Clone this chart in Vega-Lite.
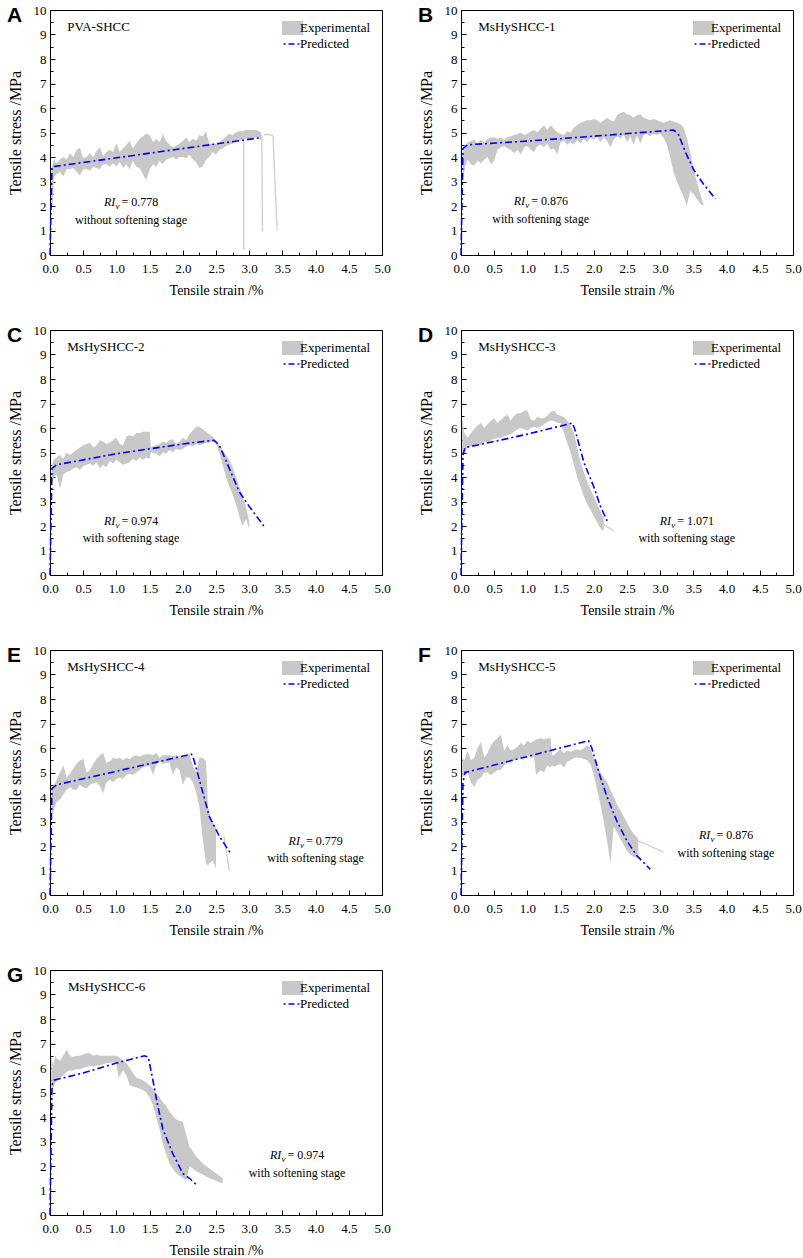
{
"$schema": "https://vega.github.io/schema/vega-lite/v6.json",
"background": "white",
"padding": {"left": 6, "top": 3, "right": 2, "bottom": 4},
"columns": 2,
"spacing": {"row": 75, "column": 79},
"bounds": "flush",
"resolve": {"scale": {"color": "independent"}, "legend": {"color": "independent"}},
"datasets": {"rows": [
{"p":"A","k":"b","x":0.02,"y":2.0,"y2":3.5},{"p":"A","k":"b","x":0.04,"y":2.0,"y2":3.7},{"p":"A","k":"b","x":0.06,"y":3.2,"y2":3.9},{"p":"A","k":"b","x":0.1,"y":3.3,"y2":3.75},{"p":"A","k":"b","x":0.15,"y":3.4,"y2":3.9},{"p":"A","k":"b","x":0.2,"y":3.2,"y2":4.0},{"p":"A","k":"b","x":0.25,"y":3.5,"y2":3.9},{"p":"A","k":"b","x":0.3,"y":3.5,"y2":4.15},{"p":"A","k":"b","x":0.35,"y":3.55,"y2":4.0},{"p":"A","k":"b","x":0.4,"y":3.4,"y2":4.3},{"p":"A","k":"b","x":0.45,"y":3.25,"y2":4.38},{"p":"A","k":"b","x":0.5,"y":3.5,"y2":3.95},{"p":"A","k":"b","x":0.55,"y":3.5,"y2":4.0},{"p":"A","k":"b","x":0.6,"y":3.45,"y2":4.15},{"p":"A","k":"b","x":0.65,"y":3.6,"y2":4.0},{"p":"A","k":"b","x":0.7,"y":3.55,"y2":4.25},{"p":"A","k":"b","x":0.75,"y":3.5,"y2":4.4},{"p":"A","k":"b","x":0.8,"y":3.7,"y2":4.05},{"p":"A","k":"b","x":0.85,"y":3.7,"y2":4.2},{"p":"A","k":"b","x":0.9,"y":3.6,"y2":4.3},{"p":"A","k":"b","x":0.95,"y":3.75,"y2":4.2},{"p":"A","k":"b","x":1.0,"y":3.6,"y2":4.55},{"p":"A","k":"b","x":1.05,"y":3.8,"y2":4.2},{"p":"A","k":"b","x":1.1,"y":3.55,"y2":4.35},{"p":"A","k":"b","x":1.15,"y":3.7,"y2":4.5},{"p":"A","k":"b","x":1.2,"y":3.5,"y2":4.65},{"p":"A","k":"b","x":1.25,"y":3.85,"y2":4.35},{"p":"A","k":"b","x":1.3,"y":3.6,"y2":4.55},{"p":"A","k":"b","x":1.35,"y":3.55,"y2":4.75},{"p":"A","k":"b","x":1.4,"y":3.3,"y2":4.85},{"p":"A","k":"b","x":1.45,"y":3.05,"y2":4.95},{"p":"A","k":"b","x":1.5,"y":3.5,"y2":4.9},{"p":"A","k":"b","x":1.55,"y":3.7,"y2":4.6},{"p":"A","k":"b","x":1.6,"y":3.6,"y2":4.75},{"p":"A","k":"b","x":1.65,"y":3.85,"y2":4.6},{"p":"A","k":"b","x":1.7,"y":3.7,"y2":4.95},{"p":"A","k":"b","x":1.75,"y":3.9,"y2":4.65},{"p":"A","k":"b","x":1.8,"y":3.95,"y2":4.5},{"p":"A","k":"b","x":1.85,"y":4.0,"y2":4.4},{"p":"A","k":"b","x":1.9,"y":3.9,"y2":4.45},{"p":"A","k":"b","x":1.95,"y":4.0,"y2":4.55},{"p":"A","k":"b","x":2.0,"y":4.0,"y2":4.65},{"p":"A","k":"b","x":2.05,"y":3.95,"y2":4.8},{"p":"A","k":"b","x":2.1,"y":4.1,"y2":4.6},{"p":"A","k":"b","x":2.15,"y":3.9,"y2":4.75},{"p":"A","k":"b","x":2.2,"y":3.8,"y2":4.65},{"p":"A","k":"b","x":2.25,"y":3.55,"y2":4.9},{"p":"A","k":"b","x":2.3,"y":3.6,"y2":4.85},{"p":"A","k":"b","x":2.35,"y":3.9,"y2":5.05},{"p":"A","k":"b","x":2.4,"y":4.0,"y2":4.55},{"p":"A","k":"b","x":2.45,"y":4.2,"y2":4.5},{"p":"A","k":"b","x":2.5,"y":4.1,"y2":4.55},{"p":"A","k":"b","x":2.55,"y":4.3,"y2":4.6},{"p":"A","k":"b","x":2.6,"y":4.35,"y2":4.7},{"p":"A","k":"b","x":2.65,"y":4.45,"y2":4.85},{"p":"A","k":"b","x":2.7,"y":4.5,"y2":4.95},{"p":"A","k":"b","x":2.75,"y":4.55,"y2":4.9},{"p":"A","k":"b","x":2.8,"y":4.6,"y2":5.0},{"p":"A","k":"b","x":2.85,"y":4.65,"y2":5.05},{"p":"A","k":"b","x":2.9,"y":4.7,"y2":5.05},{"p":"A","k":"b","x":2.95,"y":4.75,"y2":5.1},{"p":"A","k":"b","x":3.0,"y":4.75,"y2":5.1},{"p":"A","k":"b","x":3.05,"y":4.75,"y2":5.1},{"p":"A","k":"b","x":3.1,"y":4.8,"y2":5.1},{"p":"A","k":"b","x":3.15,"y":4.75,"y2":5.05},{"p":"A","k":"b","x":3.18,"y":4.7,"y2":5.0},
{"p":"A","k":"t","s":"1","x":2.92,"y":4.7},{"p":"A","k":"t","s":"1","x":2.92,"y":0.2},{"p":"A","k":"t","s":"2","x":3.19,"y":4.9},{"p":"A","k":"t","s":"2","x":3.2,"y":0.95},{"p":"A","k":"t","s":"3","x":3.22,"y":4.9},{"p":"A","k":"t","s":"3","x":3.3,"y":4.92},{"p":"A","k":"t","s":"3","x":3.36,"y":4.85},{"p":"A","k":"t","s":"3","x":3.38,"y":3.5},{"p":"A","k":"t","s":"3","x":3.42,"y":1.0},
{"p":"A","k":"l","x":0,"y":0},{"p":"A","k":"l","x":0.03,"y":3.6},{"p":"A","k":"l","x":3.15,"y":4.78},
{"p":"A","k":"n","x":1.22,"y":2.16,"tag":"A","name":"PVA-SHCC","ri":"= 0.778","stage":"without softening stage"},

{"p":"B","k":"b","x":0.03,"y":3.0,"y2":4.2},{"p":"B","k":"b","x":0.06,"y":3.6,"y2":4.4},{"p":"B","k":"b","x":0.1,"y":3.9,"y2":4.6},{"p":"B","k":"b","x":0.15,"y":3.7,"y2":4.65},{"p":"B","k":"b","x":0.2,"y":3.65,"y2":4.7},{"p":"B","k":"b","x":0.25,"y":3.85,"y2":4.55},{"p":"B","k":"b","x":0.3,"y":3.75,"y2":4.7},{"p":"B","k":"b","x":0.35,"y":3.9,"y2":4.6},{"p":"B","k":"b","x":0.4,"y":4.0,"y2":4.75},{"p":"B","k":"b","x":0.45,"y":3.7,"y2":4.8},{"p":"B","k":"b","x":0.5,"y":3.85,"y2":4.8},{"p":"B","k":"b","x":0.55,"y":4.3,"y2":4.75},{"p":"B","k":"b","x":0.6,"y":4.4,"y2":4.8},{"p":"B","k":"b","x":0.65,"y":4.45,"y2":4.7},{"p":"B","k":"b","x":0.7,"y":4.35,"y2":4.8},{"p":"B","k":"b","x":0.75,"y":4.3,"y2":4.85},{"p":"B","k":"b","x":0.8,"y":4.15,"y2":4.9},{"p":"B","k":"b","x":0.85,"y":4.3,"y2":4.95},{"p":"B","k":"b","x":0.9,"y":4.1,"y2":5.0},{"p":"B","k":"b","x":0.95,"y":4.4,"y2":4.9},{"p":"B","k":"b","x":1.0,"y":4.45,"y2":4.95},{"p":"B","k":"b","x":1.05,"y":4.3,"y2":5.05},{"p":"B","k":"b","x":1.1,"y":4.2,"y2":5.1},{"p":"B","k":"b","x":1.15,"y":4.45,"y2":5.0},{"p":"B","k":"b","x":1.2,"y":4.5,"y2":5.15},{"p":"B","k":"b","x":1.25,"y":4.4,"y2":5.3},{"p":"B","k":"b","x":1.3,"y":4.55,"y2":5.1},{"p":"B","k":"b","x":1.35,"y":4.3,"y2":5.3},{"p":"B","k":"b","x":1.4,"y":4.35,"y2":5.15},{"p":"B","k":"b","x":1.45,"y":4.1,"y2":5.0},{"p":"B","k":"b","x":1.5,"y":4.6,"y2":4.95},{"p":"B","k":"b","x":1.55,"y":4.65,"y2":4.9},{"p":"B","k":"b","x":1.6,"y":4.5,"y2":5.05},{"p":"B","k":"b","x":1.65,"y":4.6,"y2":5.0},{"p":"B","k":"b","x":1.7,"y":4.5,"y2":5.2},{"p":"B","k":"b","x":1.75,"y":4.7,"y2":5.3},{"p":"B","k":"b","x":1.8,"y":4.55,"y2":5.4},{"p":"B","k":"b","x":1.85,"y":4.75,"y2":5.45},{"p":"B","k":"b","x":1.9,"y":4.6,"y2":5.5},{"p":"B","k":"b","x":1.95,"y":4.8,"y2":5.5},{"p":"B","k":"b","x":2.0,"y":4.7,"y2":5.55},{"p":"B","k":"b","x":2.05,"y":4.85,"y2":5.5},{"p":"B","k":"b","x":2.1,"y":4.6,"y2":5.4},{"p":"B","k":"b","x":2.15,"y":4.8,"y2":5.5},{"p":"B","k":"b","x":2.2,"y":4.65,"y2":5.6},{"p":"B","k":"b","x":2.25,"y":4.4,"y2":5.5},{"p":"B","k":"b","x":2.3,"y":4.7,"y2":5.45},{"p":"B","k":"b","x":2.35,"y":4.85,"y2":5.7},{"p":"B","k":"b","x":2.4,"y":4.75,"y2":5.8},{"p":"B","k":"b","x":2.45,"y":4.9,"y2":5.85},{"p":"B","k":"b","x":2.5,"y":4.6,"y2":5.75},{"p":"B","k":"b","x":2.55,"y":4.85,"y2":5.7},{"p":"B","k":"b","x":2.6,"y":4.5,"y2":5.6},{"p":"B","k":"b","x":2.65,"y":4.9,"y2":5.7},{"p":"B","k":"b","x":2.7,"y":4.55,"y2":5.75},{"p":"B","k":"b","x":2.75,"y":4.9,"y2":5.6},{"p":"B","k":"b","x":2.8,"y":4.95,"y2":5.55},{"p":"B","k":"b","x":2.85,"y":4.85,"y2":5.5},{"p":"B","k":"b","x":2.9,"y":4.95,"y2":5.55},{"p":"B","k":"b","x":2.95,"y":4.9,"y2":5.5},{"p":"B","k":"b","x":3.0,"y":4.95,"y2":5.45},{"p":"B","k":"b","x":3.05,"y":4.8,"y2":5.4},{"p":"B","k":"b","x":3.1,"y":4.5,"y2":5.45},{"p":"B","k":"b","x":3.15,"y":4.0,"y2":5.5},{"p":"B","k":"b","x":3.2,"y":3.4,"y2":5.45},{"p":"B","k":"b","x":3.25,"y":3.0,"y2":5.4},{"p":"B","k":"b","x":3.3,"y":2.7,"y2":5.35},{"p":"B","k":"b","x":3.35,"y":2.4,"y2":5.2},{"p":"B","k":"b","x":3.4,"y":2.0,"y2":4.8},{"p":"B","k":"b","x":3.45,"y":2.6,"y2":4.2},{"p":"B","k":"b","x":3.5,"y":2.5,"y2":3.6},{"p":"B","k":"b","x":3.55,"y":2.3,"y2":3.0},{"p":"B","k":"b","x":3.6,"y":2.1,"y2":2.5},{"p":"B","k":"b","x":3.65,"y":2.0,"y2":2.1},
{"p":"B","k":"l","x":0,"y":0},{"p":"B","k":"l","x":0.03,"y":4.35},{"p":"B","k":"l","x":0.1,"y":4.5},{"p":"B","k":"l","x":1.0,"y":4.65},{"p":"B","k":"l","x":2.0,"y":4.85},{"p":"B","k":"l","x":3.2,"y":5.1},{"p":"B","k":"l","x":3.27,"y":4.95},{"p":"B","k":"l","x":3.38,"y":4.2},{"p":"B","k":"l","x":3.5,"y":3.5},{"p":"B","k":"l","x":3.65,"y":2.9},{"p":"B","k":"l","x":3.83,"y":2.3},
{"p":"B","k":"n","x":1.2,"y":2.19,"tag":"B","name":"MsHySHCC-1","ri":"= 0.876","stage":"with softening stage"},

{"p":"C","k":"b","x":0.03,"y":3.8,"y2":4.5},{"p":"C","k":"b","x":0.06,"y":4.0,"y2":4.7},{"p":"C","k":"b","x":0.1,"y":4.1,"y2":4.8},{"p":"C","k":"b","x":0.15,"y":3.5,"y2":4.9},{"p":"C","k":"b","x":0.2,"y":4.1,"y2":4.75},{"p":"C","k":"b","x":0.25,"y":4.2,"y2":5.0},{"p":"C","k":"b","x":0.3,"y":4.25,"y2":4.9},{"p":"C","k":"b","x":0.35,"y":4.35,"y2":5.0},{"p":"C","k":"b","x":0.4,"y":4.4,"y2":5.1},{"p":"C","k":"b","x":0.45,"y":4.3,"y2":5.2},{"p":"C","k":"b","x":0.5,"y":4.45,"y2":5.3},{"p":"C","k":"b","x":0.55,"y":4.5,"y2":5.35},{"p":"C","k":"b","x":0.6,"y":4.55,"y2":5.4},{"p":"C","k":"b","x":0.65,"y":4.45,"y2":5.2},{"p":"C","k":"b","x":0.7,"y":4.6,"y2":5.3},{"p":"C","k":"b","x":0.75,"y":4.35,"y2":5.5},{"p":"C","k":"b","x":0.8,"y":4.5,"y2":5.45},{"p":"C","k":"b","x":0.85,"y":4.4,"y2":5.35},{"p":"C","k":"b","x":0.9,"y":4.65,"y2":5.4},{"p":"C","k":"b","x":0.95,"y":4.55,"y2":5.5},{"p":"C","k":"b","x":1.0,"y":4.7,"y2":5.6},{"p":"C","k":"b","x":1.05,"y":4.6,"y2":5.35},{"p":"C","k":"b","x":1.1,"y":4.5,"y2":5.3},{"p":"C","k":"b","x":1.15,"y":4.55,"y2":5.65},{"p":"C","k":"b","x":1.2,"y":4.6,"y2":5.7},{"p":"C","k":"b","x":1.25,"y":4.75,"y2":5.65},{"p":"C","k":"b","x":1.3,"y":4.65,"y2":5.8},{"p":"C","k":"b","x":1.35,"y":4.8,"y2":5.8},{"p":"C","k":"b","x":1.4,"y":4.7,"y2":5.85},{"p":"C","k":"b","x":1.45,"y":4.8,"y2":5.85},{"p":"C","k":"b","x":1.5,"y":4.75,"y2":5.85},{"p":"C","k":"b","x":1.52,"y":5.0,"y2":5.2},{"p":"C","k":"b","x":1.6,"y":4.95,"y2":5.3},{"p":"C","k":"b","x":1.65,"y":4.85,"y2":5.35},{"p":"C","k":"b","x":1.7,"y":5.0,"y2":5.45},{"p":"C","k":"b","x":1.75,"y":4.95,"y2":5.4},{"p":"C","k":"b","x":1.8,"y":5.1,"y2":5.5},{"p":"C","k":"b","x":1.85,"y":5.0,"y2":5.55},{"p":"C","k":"b","x":1.9,"y":5.15,"y2":5.35},{"p":"C","k":"b","x":1.95,"y":5.1,"y2":5.45},{"p":"C","k":"b","x":2.0,"y":5.15,"y2":5.6},{"p":"C","k":"b","x":2.05,"y":5.25,"y2":5.5},{"p":"C","k":"b","x":2.1,"y":5.3,"y2":5.75},{"p":"C","k":"b","x":2.15,"y":5.25,"y2":5.9},{"p":"C","k":"b","x":2.2,"y":5.35,"y2":6.05},{"p":"C","k":"b","x":2.25,"y":5.3,"y2":6.05},{"p":"C","k":"b","x":2.3,"y":5.35,"y2":5.95},{"p":"C","k":"b","x":2.35,"y":5.4,"y2":5.85},{"p":"C","k":"b","x":2.4,"y":5.4,"y2":5.75},{"p":"C","k":"b","x":2.45,"y":5.45,"y2":5.65},{"p":"C","k":"b","x":2.5,"y":5.35,"y2":5.5},{"p":"C","k":"b","x":2.55,"y":5.0,"y2":5.3},{"p":"C","k":"b","x":2.6,"y":4.5,"y2":5.1},{"p":"C","k":"b","x":2.65,"y":4.0,"y2":4.9},{"p":"C","k":"b","x":2.7,"y":3.6,"y2":4.7},{"p":"C","k":"b","x":2.75,"y":3.3,"y2":4.4},{"p":"C","k":"b","x":2.8,"y":2.9,"y2":4.0},{"p":"C","k":"b","x":2.85,"y":2.4,"y2":3.6},{"p":"C","k":"b","x":2.9,"y":2.0,"y2":3.2},{"p":"C","k":"b","x":2.95,"y":2.3,"y2":2.8},{"p":"C","k":"b","x":3.0,"y":1.9,"y2":2.2},
{"p":"C","k":"l","x":0,"y":0},{"p":"C","k":"l","x":0.03,"y":4.35},{"p":"C","k":"l","x":0.1,"y":4.5},{"p":"C","k":"l","x":1.0,"y":4.95},{"p":"C","k":"l","x":2.0,"y":5.35},{"p":"C","k":"l","x":2.47,"y":5.5},{"p":"C","k":"l","x":2.55,"y":5.3},{"p":"C","k":"l","x":2.85,"y":3.4},{"p":"C","k":"l","x":3.0,"y":2.8},{"p":"C","k":"l","x":3.22,"y":2.0},
{"p":"C","k":"n","x":1.22,"y":2.21,"tag":"C","name":"MsHySHCC-2","ri":"= 0.974","stage":"with softening stage"},

{"p":"D","k":"b","x":0.02,"y":4.9,"y2":6.5},{"p":"D","k":"b","x":0.05,"y":5.0,"y2":5.8},{"p":"D","k":"b","x":0.1,"y":5.2,"y2":5.6},{"p":"D","k":"b","x":0.15,"y":5.25,"y2":5.8},{"p":"D","k":"b","x":0.2,"y":5.3,"y2":5.95},{"p":"D","k":"b","x":0.25,"y":5.35,"y2":6.1},{"p":"D","k":"b","x":0.3,"y":5.3,"y2":6.2},{"p":"D","k":"b","x":0.35,"y":5.45,"y2":6.0},{"p":"D","k":"b","x":0.4,"y":5.4,"y2":6.15},{"p":"D","k":"b","x":0.45,"y":5.5,"y2":6.3},{"p":"D","k":"b","x":0.5,"y":5.55,"y2":6.4},{"p":"D","k":"b","x":0.55,"y":5.6,"y2":6.2},{"p":"D","k":"b","x":0.6,"y":5.6,"y2":6.35},{"p":"D","k":"b","x":0.65,"y":5.65,"y2":6.45},{"p":"D","k":"b","x":0.7,"y":5.7,"y2":6.55},{"p":"D","k":"b","x":0.75,"y":5.75,"y2":6.3},{"p":"D","k":"b","x":0.8,"y":5.85,"y2":6.5},{"p":"D","k":"b","x":0.85,"y":5.95,"y2":6.6},{"p":"D","k":"b","x":0.9,"y":6.0,"y2":6.6},{"p":"D","k":"b","x":0.95,"y":5.95,"y2":6.7},{"p":"D","k":"b","x":1.0,"y":5.9,"y2":6.7},{"p":"D","k":"b","x":1.05,"y":6.0,"y2":6.35},{"p":"D","k":"b","x":1.1,"y":6.05,"y2":6.3},{"p":"D","k":"b","x":1.15,"y":6.0,"y2":6.45},{"p":"D","k":"b","x":1.2,"y":6.05,"y2":6.4},{"p":"D","k":"b","x":1.25,"y":6.15,"y2":6.4},{"p":"D","k":"b","x":1.3,"y":6.25,"y2":6.5},{"p":"D","k":"b","x":1.35,"y":6.3,"y2":6.65},{"p":"D","k":"b","x":1.4,"y":6.3,"y2":6.7},{"p":"D","k":"b","x":1.45,"y":6.2,"y2":6.55},{"p":"D","k":"b","x":1.5,"y":6.2,"y2":6.5},{"p":"D","k":"b","x":1.55,"y":5.8,"y2":6.45},{"p":"D","k":"b","x":1.6,"y":5.4,"y2":6.3},{"p":"D","k":"b","x":1.65,"y":5.0,"y2":6.1},{"p":"D","k":"b","x":1.7,"y":4.5,"y2":5.8},{"p":"D","k":"b","x":1.75,"y":4.0,"y2":5.2},{"p":"D","k":"b","x":1.8,"y":3.6,"y2":4.6},{"p":"D","k":"b","x":1.85,"y":3.2,"y2":4.2},{"p":"D","k":"b","x":1.9,"y":2.9,"y2":3.8},{"p":"D","k":"b","x":1.95,"y":2.65,"y2":3.5},{"p":"D","k":"b","x":2.0,"y":2.4,"y2":3.2},{"p":"D","k":"b","x":2.05,"y":2.15,"y2":2.9},{"p":"D","k":"b","x":2.1,"y":1.9,"y2":2.6},{"p":"D","k":"b","x":2.15,"y":1.8,"y2":2.3},
{"p":"D","k":"t","s":"1","x":2.15,"y":2.05},{"p":"D","k":"t","s":"1","x":2.3,"y":1.8},
{"p":"D","k":"l","x":0,"y":0},{"p":"D","k":"l","x":0.03,"y":4.9},{"p":"D","k":"l","x":0.06,"y":5.2},{"p":"D","k":"l","x":0.5,"y":5.45},{"p":"D","k":"l","x":1.0,"y":5.75},{"p":"D","k":"l","x":1.68,"y":6.2},{"p":"D","k":"l","x":1.72,"y":5.9},{"p":"D","k":"l","x":1.85,"y":4.6},{"p":"D","k":"l","x":2.0,"y":3.6},{"p":"D","k":"l","x":2.1,"y":2.8},{"p":"D","k":"l","x":2.22,"y":2.1},
{"p":"D","k":"n","x":3.4,"y":2.21,"tag":"D","name":"MsHySHCC-3","ri":"= 1.071","stage":"with softening stage"},

{"p":"E","k":"b","x":0.02,"y":3.2,"y2":4.3},{"p":"E","k":"b","x":0.05,"y":3.4,"y2":4.4},{"p":"E","k":"b","x":0.1,"y":3.8,"y2":4.7},{"p":"E","k":"b","x":0.15,"y":3.9,"y2":5.0},{"p":"E","k":"b","x":0.2,"y":4.1,"y2":5.3},{"p":"E","k":"b","x":0.25,"y":4.3,"y2":4.8},{"p":"E","k":"b","x":0.3,"y":4.4,"y2":4.95},{"p":"E","k":"b","x":0.35,"y":4.3,"y2":5.15},{"p":"E","k":"b","x":0.4,"y":4.3,"y2":5.35},{"p":"E","k":"b","x":0.45,"y":4.5,"y2":5.5},{"p":"E","k":"b","x":0.5,"y":4.4,"y2":5.55},{"p":"E","k":"b","x":0.55,"y":4.35,"y2":5.0},{"p":"E","k":"b","x":0.6,"y":4.5,"y2":5.1},{"p":"E","k":"b","x":0.65,"y":4.55,"y2":5.35},{"p":"E","k":"b","x":0.7,"y":4.6,"y2":5.55},{"p":"E","k":"b","x":0.75,"y":4.45,"y2":5.7},{"p":"E","k":"b","x":0.8,"y":4.15,"y2":5.8},{"p":"E","k":"b","x":0.85,"y":4.6,"y2":5.4},{"p":"E","k":"b","x":0.9,"y":4.7,"y2":5.45},{"p":"E","k":"b","x":0.95,"y":4.6,"y2":5.6},{"p":"E","k":"b","x":1.0,"y":4.75,"y2":5.55},{"p":"E","k":"b","x":1.05,"y":4.8,"y2":5.6},{"p":"E","k":"b","x":1.1,"y":4.75,"y2":5.5},{"p":"E","k":"b","x":1.15,"y":4.9,"y2":5.6},{"p":"E","k":"b","x":1.2,"y":4.95,"y2":5.55},{"p":"E","k":"b","x":1.25,"y":4.9,"y2":5.65},{"p":"E","k":"b","x":1.3,"y":5.0,"y2":5.7},{"p":"E","k":"b","x":1.35,"y":5.1,"y2":5.65},{"p":"E","k":"b","x":1.4,"y":5.2,"y2":5.7},{"p":"E","k":"b","x":1.45,"y":5.25,"y2":5.75},{"p":"E","k":"b","x":1.5,"y":5.3,"y2":5.75},{"p":"E","k":"b","x":1.55,"y":4.9,"y2":5.7},{"p":"E","k":"b","x":1.6,"y":5.3,"y2":5.8},{"p":"E","k":"b","x":1.65,"y":5.45,"y2":5.6},{"p":"E","k":"b","x":1.7,"y":5.35,"y2":5.7},{"p":"E","k":"b","x":1.75,"y":5.4,"y2":5.7},{"p":"E","k":"b","x":1.8,"y":5.4,"y2":5.7},{"p":"E","k":"b","x":1.85,"y":4.9,"y2":5.65},{"p":"E","k":"b","x":1.9,"y":5.2,"y2":5.7},{"p":"E","k":"b","x":1.95,"y":5.1,"y2":5.65},{"p":"E","k":"b","x":2.0,"y":4.5,"y2":5.6},{"p":"E","k":"b","x":2.05,"y":4.8,"y2":5.7},{"p":"E","k":"b","x":2.1,"y":4.8,"y2":5.75},{"p":"E","k":"b","x":2.15,"y":4.6,"y2":5.3},{"p":"E","k":"b","x":2.2,"y":4.2,"y2":5.0},{"p":"E","k":"b","x":2.25,"y":3.6,"y2":5.6},{"p":"E","k":"b","x":2.3,"y":2.3,"y2":5.6},{"p":"E","k":"b","x":2.35,"y":1.3,"y2":5.45},{"p":"E","k":"b","x":2.38,"y":1.2,"y2":3.6},{"p":"E","k":"b","x":2.4,"y":1.3,"y2":3.3},{"p":"E","k":"b","x":2.45,"y":1.4,"y2":3.0},{"p":"E","k":"b","x":2.5,"y":1.1,"y2":2.7},
{"p":"E","k":"t","s":"1","x":2.62,"y":2.4},{"p":"E","k":"t","s":"1","x":2.7,"y":1.0},
{"p":"E","k":"l","x":0,"y":0},{"p":"E","k":"l","x":0.03,"y":4.35},{"p":"E","k":"l","x":0.1,"y":4.5},{"p":"E","k":"l","x":1.0,"y":5.05},{"p":"E","k":"l","x":2.13,"y":5.75},{"p":"E","k":"l","x":2.17,"y":5.5},{"p":"E","k":"l","x":2.3,"y":4.2},{"p":"E","k":"l","x":2.4,"y":3.2},{"p":"E","k":"l","x":2.55,"y":2.4},{"p":"E","k":"l","x":2.72,"y":1.7},
{"p":"E","k":"n","x":4.0,"y":2.21,"tag":"E","name":"MsHySHCC-4","ri":"= 0.779","stage":"with softening stage"},

{"p":"F","k":"b","x":0.02,"y":4.8,"y2":5.6},{"p":"F","k":"b","x":0.05,"y":4.9,"y2":5.5},{"p":"F","k":"b","x":0.1,"y":5.0,"y2":5.9},{"p":"F","k":"b","x":0.15,"y":4.6,"y2":5.5},{"p":"F","k":"b","x":0.2,"y":4.4,"y2":5.6},{"p":"F","k":"b","x":0.25,"y":4.7,"y2":6.0},{"p":"F","k":"b","x":0.3,"y":4.8,"y2":6.25},{"p":"F","k":"b","x":0.35,"y":5.0,"y2":5.6},{"p":"F","k":"b","x":0.4,"y":5.0,"y2":5.8},{"p":"F","k":"b","x":0.45,"y":4.9,"y2":6.1},{"p":"F","k":"b","x":0.5,"y":5.0,"y2":6.3},{"p":"F","k":"b","x":0.55,"y":5.1,"y2":6.4},{"p":"F","k":"b","x":0.6,"y":5.1,"y2":6.55},{"p":"F","k":"b","x":0.65,"y":5.3,"y2":5.9},{"p":"F","k":"b","x":0.7,"y":5.4,"y2":6.1},{"p":"F","k":"b","x":0.75,"y":5.45,"y2":5.9},{"p":"F","k":"b","x":0.8,"y":5.5,"y2":5.95},{"p":"F","k":"b","x":0.85,"y":5.55,"y2":6.05},{"p":"F","k":"b","x":0.9,"y":5.6,"y2":6.2},{"p":"F","k":"b","x":0.95,"y":5.65,"y2":6.1},{"p":"F","k":"b","x":1.0,"y":5.7,"y2":6.3},{"p":"F","k":"b","x":1.05,"y":5.6,"y2":6.2},{"p":"F","k":"b","x":1.1,"y":5.65,"y2":6.3},{"p":"F","k":"b","x":1.13,"y":4.9,"y2":6.35},{"p":"F","k":"b","x":1.2,"y":5.1,"y2":6.4},{"p":"F","k":"b","x":1.25,"y":5.0,"y2":6.35},{"p":"F","k":"b","x":1.3,"y":5.3,"y2":6.4},{"p":"F","k":"b","x":1.35,"y":5.2,"y2":6.4},{"p":"F","k":"b","x":1.37,"y":5.3,"y2":5.7},{"p":"F","k":"b","x":1.4,"y":5.25,"y2":5.7},{"p":"F","k":"b","x":1.45,"y":5.3,"y2":5.85},{"p":"F","k":"b","x":1.5,"y":5.35,"y2":5.95},{"p":"F","k":"b","x":1.55,"y":5.2,"y2":5.8},{"p":"F","k":"b","x":1.6,"y":5.45,"y2":5.9},{"p":"F","k":"b","x":1.65,"y":5.5,"y2":5.85},{"p":"F","k":"b","x":1.7,"y":5.6,"y2":5.9},{"p":"F","k":"b","x":1.75,"y":5.6,"y2":5.95},{"p":"F","k":"b","x":1.8,"y":5.6,"y2":5.9},{"p":"F","k":"b","x":1.85,"y":5.55,"y2":6.0},{"p":"F","k":"b","x":1.9,"y":5.5,"y2":6.1},{"p":"F","k":"b","x":1.95,"y":5.35,"y2":6.0},{"p":"F","k":"b","x":2.0,"y":4.9,"y2":5.6},{"p":"F","k":"b","x":2.05,"y":4.3,"y2":5.3},{"p":"F","k":"b","x":2.1,"y":3.7,"y2":5.0},{"p":"F","k":"b","x":2.15,"y":3.0,"y2":4.8},{"p":"F","k":"b","x":2.2,"y":2.2,"y2":4.6},{"p":"F","k":"b","x":2.25,"y":1.3,"y2":4.3},{"p":"F","k":"b","x":2.3,"y":2.8,"y2":4.0},{"p":"F","k":"b","x":2.35,"y":2.55,"y2":3.7},{"p":"F","k":"b","x":2.4,"y":2.3,"y2":3.45},{"p":"F","k":"b","x":2.45,"y":2.05,"y2":3.2},{"p":"F","k":"b","x":2.5,"y":1.8,"y2":2.95},{"p":"F","k":"b","x":2.55,"y":1.65,"y2":2.7},{"p":"F","k":"b","x":2.6,"y":1.55,"y2":2.5},{"p":"F","k":"b","x":2.67,"y":1.5,"y2":2.3},
{"p":"F","k":"t","s":"1","x":2.67,"y":2.2},{"p":"F","k":"t","s":"1","x":2.8,"y":2.05},{"p":"F","k":"t","s":"1","x":3.05,"y":1.75},
{"p":"F","k":"l","x":0,"y":0},{"p":"F","k":"l","x":0.03,"y":4.6},{"p":"F","k":"l","x":0.06,"y":5.0},{"p":"F","k":"l","x":1.0,"y":5.65},{"p":"F","k":"l","x":1.92,"y":6.3},{"p":"F","k":"l","x":1.97,"y":6.0},{"p":"F","k":"l","x":2.1,"y":4.8},{"p":"F","k":"l","x":2.2,"y":4.0},{"p":"F","k":"l","x":2.35,"y":3.0},{"p":"F","k":"l","x":2.5,"y":2.2},{"p":"F","k":"l","x":2.65,"y":1.6},{"p":"F","k":"l","x":2.85,"y":1.05},
{"p":"F","k":"n","x":3.99,"y":2.45,"tag":"F","name":"MsHySHCC-5","ri":"= 0.876","stage":"with softening stage"},

{"p":"G","k":"b","x":0.02,"y":4.5,"y2":6.5},{"p":"G","k":"b","x":0.05,"y":5.2,"y2":6.1},{"p":"G","k":"b","x":0.08,"y":5.4,"y2":6.5},{"p":"G","k":"b","x":0.1,"y":5.5,"y2":6.4},{"p":"G","k":"b","x":0.15,"y":5.6,"y2":6.3},{"p":"G","k":"b","x":0.2,"y":5.7,"y2":6.5},{"p":"G","k":"b","x":0.25,"y":5.85,"y2":6.75},{"p":"G","k":"b","x":0.3,"y":5.9,"y2":6.5},{"p":"G","k":"b","x":0.35,"y":5.9,"y2":6.45},{"p":"G","k":"b","x":0.4,"y":5.95,"y2":6.5},{"p":"G","k":"b","x":0.45,"y":5.95,"y2":6.5},{"p":"G","k":"b","x":0.5,"y":6.0,"y2":6.55},{"p":"G","k":"b","x":0.55,"y":6.05,"y2":6.6},{"p":"G","k":"b","x":0.6,"y":6.1,"y2":6.6},{"p":"G","k":"b","x":0.65,"y":6.05,"y2":6.5},{"p":"G","k":"b","x":0.7,"y":6.1,"y2":6.55},{"p":"G","k":"b","x":0.75,"y":6.1,"y2":6.5},{"p":"G","k":"b","x":0.8,"y":6.15,"y2":6.5},{"p":"G","k":"b","x":0.85,"y":6.2,"y2":6.5},{"p":"G","k":"b","x":0.9,"y":6.2,"y2":6.5},{"p":"G","k":"b","x":0.95,"y":6.25,"y2":6.5},{"p":"G","k":"b","x":1.0,"y":6.2,"y2":6.5},{"p":"G","k":"b","x":1.03,"y":5.6,"y2":6.45},{"p":"G","k":"b","x":1.1,"y":5.9,"y2":6.3},{"p":"G","k":"b","x":1.15,"y":5.7,"y2":6.2},{"p":"G","k":"b","x":1.2,"y":5.3,"y2":6.0},{"p":"G","k":"b","x":1.25,"y":5.25,"y2":5.8},{"p":"G","k":"b","x":1.3,"y":5.2,"y2":5.6},{"p":"G","k":"b","x":1.35,"y":5.15,"y2":5.55},{"p":"G","k":"b","x":1.4,"y":5.1,"y2":5.5},{"p":"G","k":"b","x":1.45,"y":5.0,"y2":5.4},{"p":"G","k":"b","x":1.5,"y":4.8,"y2":5.3},{"p":"G","k":"b","x":1.55,"y":4.5,"y2":5.15},{"p":"G","k":"b","x":1.6,"y":4.0,"y2":4.95},{"p":"G","k":"b","x":1.65,"y":3.5,"y2":4.8},{"p":"G","k":"b","x":1.7,"y":2.9,"y2":4.6},{"p":"G","k":"b","x":1.75,"y":2.5,"y2":4.45},{"p":"G","k":"b","x":1.8,"y":2.1,"y2":4.2},{"p":"G","k":"b","x":1.85,"y":1.9,"y2":4.05},{"p":"G","k":"b","x":1.9,"y":1.7,"y2":3.9},{"p":"G","k":"b","x":1.95,"y":1.6,"y2":3.85},{"p":"G","k":"b","x":2.0,"y":1.5,"y2":3.8},{"p":"G","k":"b","x":2.05,"y":1.4,"y2":3.3},{"p":"G","k":"b","x":2.1,"y":2.0,"y2":2.8},{"p":"G","k":"b","x":2.15,"y":1.9,"y2":2.6},{"p":"G","k":"b","x":2.2,"y":1.8,"y2":2.4},{"p":"G","k":"b","x":2.3,"y":1.65,"y2":2.1},{"p":"G","k":"b","x":2.4,"y":1.5,"y2":1.9},{"p":"G","k":"b","x":2.5,"y":1.4,"y2":1.7},{"p":"G","k":"b","x":2.6,"y":1.3,"y2":1.5},
{"p":"G","k":"l","x":0,"y":0},{"p":"G","k":"l","x":0.03,"y":5.3},{"p":"G","k":"l","x":0.06,"y":5.5},{"p":"G","k":"l","x":0.5,"y":5.8},{"p":"G","k":"l","x":1.0,"y":6.2},{"p":"G","k":"l","x":1.42,"y":6.5},{"p":"G","k":"l","x":1.48,"y":6.45},{"p":"G","k":"l","x":1.55,"y":5.5},{"p":"G","k":"l","x":1.62,"y":4.5},{"p":"G","k":"l","x":1.7,"y":3.5},{"p":"G","k":"l","x":1.85,"y":2.5},{"p":"G","k":"l","x":2.0,"y":1.7},{"p":"G","k":"l","x":2.1,"y":1.5},{"p":"G","k":"l","x":2.22,"y":1.2},
{"p":"G","k":"n","x":3.72,"y":2.43,"tag":"G","name":"MsHySHCC-6","ri":"= 0.974","stage":"with softening stage"}
]},
"concat": [
{"width": 332, "height": 245, "data": {"name": "rows"}, "transform": [{"filter": "datum.p === 'A'"}],
 "encoding": {
  "x": {"field": "x", "type": "quantitative", "scale": {"domain": [0, 5], "nice": false, "zero": false}, "axis": {"title": "Tensile strain /%", "values": [0,0.25,0.5,0.75,1,1.25,1.5,1.75,2,2.25,2.5,2.75,3,3.25,3.5,3.75,4,4.25,4.5,4.75,5], "labelExpr": "datum.value % 0.5 === 0 ? format(datum.value, '.1f') : ''", "tickSize": {"condition": {"test": "datum.value % 0.5 === 0", "value": -5}, "value": -3}, "labelPadding": 12, "titlePadding": 6, "titleFontSize": 14}},
  "y": {"field": "y", "type": "quantitative", "scale": {"domain": [0, 10], "nice": false}, "axis": {"title": "Tensile stress /MPa", "values": [0,0.5,1,1.5,2,2.5,3,3.5,4,4.5,5,5.5,6,6.5,7,7.5,8,8.5,9,9.5,10], "labelExpr": "datum.value % 1 === 0 ? format(datum.value, 'd') : ''", "tickSize": {"condition": {"test": "datum.value % 1 === 0", "value": -5}, "value": -3}, "labelPadding": 9, "titlePadding": 10, "titleFontSize": 16}}
 },
 "layer": [
  {"transform": [{"filter": "datum.k === 'b'"}], "mark": {"type": "area"}, "encoding": {"y2": {"field": "y2"}, "color": {"datum": "Experimental", "type": "nominal", "scale": {"domain": ["Experimental", "Predicted"], "range": ["#c8c8c8", "#0000ff"]}, "legend": {"title": null, "encode": {"symbols": {"update": {"size": {"value": 784}, "shape": {"signal": "datum.value === 'Experimental' ? 'M-1,-0.5H1V0.5H-1Z' : 'M-1,0H1'"}, "fill": {"signal": "datum.value === 'Experimental' ? '#c8c8c8' : 'transparent'"}, "stroke": {"signal": "datum.value === 'Experimental' ? '#9a9a9a' : '#0000ff'"}, "strokeWidth": {"signal": "datum.value === 'Experimental' ? 1 : 1.6"}, "strokeDash": {"signal": "datum.value === 'Experimental' ? [1,0] : [6,3,2,3]"}, "opacity": {"value": 1}}}}}}}},
  {"transform": [{"filter": "datum.k === 't'"}], "mark": {"type": "line", "color": "#cfcfcf", "strokeWidth": 1.3}, "encoding": {"detail": {"field": "s", "type": "nominal"}}},
  {"transform": [{"filter": "datum.k === 'l'"}], "mark": {"type": "line", "strokeWidth": 1.6, "strokeDash": [7, 3, 2, 3]}, "encoding": {"color": {"datum": "Predicted", "type": "nominal"}}},
  {"transform": [{"filter": "datum.k === 'n'"}], "mark": {"type": "text", "align": "left", "baseline": "alphabetic", "font": "Liberation Sans", "fontWeight": "bold", "fontSize": 21}, "encoding": {"x": {"datum": -0.648, "type": "quantitative"}, "y": {"datum": 9.51, "type": "quantitative"}, "text": {"field": "tag"}}},
  {"transform": [{"filter": "datum.k === 'n'"}], "mark": {"type": "text", "align": "left", "baseline": "middle", "fontSize": 13}, "encoding": {"x": {"datum": 0.26, "type": "quantitative"}, "y": {"datum": 9.32, "type": "quantitative"}, "text": {"field": "name"}}},
  {"transform": [{"filter": "datum.k === 'n'"}], "mark": {"type": "text", "text": "RI", "fontStyle": "italic", "align": "left", "baseline": "middle", "fontSize": 12, "dx": -27}},
  {"transform": [{"filter": "datum.k === 'n'"}], "mark": {"type": "text", "text": "v", "fontStyle": "italic", "align": "left", "baseline": "middle", "fontSize": 9, "dx": -15.5, "dy": 4}},
  {"transform": [{"filter": "datum.k === 'n'"}], "mark": {"type": "text", "align": "left", "baseline": "middle", "fontSize": 12, "dx": -9.5}, "encoding": {"text": {"field": "ri"}}},
  {"transform": [{"filter": "datum.k === 'n'"}], "mark": {"type": "text", "align": "center", "baseline": "middle", "fontSize": 12, "dy": 17.6}, "encoding": {"text": {"field": "stage"}}}
 ]},
{"width": 332, "height": 245, "data": {"name": "rows"}, "transform": [{"filter": "datum.p === 'B'"}],
 "encoding": {
  "x": {"field": "x", "type": "quantitative", "scale": {"domain": [0, 5], "nice": false, "zero": false}, "axis": {"title": "Tensile strain /%", "values": [0,0.25,0.5,0.75,1,1.25,1.5,1.75,2,2.25,2.5,2.75,3,3.25,3.5,3.75,4,4.25,4.5,4.75,5], "labelExpr": "datum.value % 0.5 === 0 ? format(datum.value, '.1f') : ''", "tickSize": {"condition": {"test": "datum.value % 0.5 === 0", "value": -5}, "value": -3}, "labelPadding": 12, "titlePadding": 6, "titleFontSize": 14}},
  "y": {"field": "y", "type": "quantitative", "scale": {"domain": [0, 10], "nice": false}, "axis": {"title": "Tensile stress /MPa", "values": [0,0.5,1,1.5,2,2.5,3,3.5,4,4.5,5,5.5,6,6.5,7,7.5,8,8.5,9,9.5,10], "labelExpr": "datum.value % 1 === 0 ? format(datum.value, 'd') : ''", "tickSize": {"condition": {"test": "datum.value % 1 === 0", "value": -5}, "value": -3}, "labelPadding": 9, "titlePadding": 10, "titleFontSize": 16}}
 },
 "layer": [
  {"transform": [{"filter": "datum.k === 'b'"}], "mark": {"type": "area"}, "encoding": {"y2": {"field": "y2"}, "color": {"datum": "Experimental", "type": "nominal", "scale": {"domain": ["Experimental", "Predicted"], "range": ["#c8c8c8", "#0000ff"]}, "legend": {"title": null, "encode": {"symbols": {"update": {"size": {"value": 784}, "shape": {"signal": "datum.value === 'Experimental' ? 'M-1,-0.5H1V0.5H-1Z' : 'M-1,0H1'"}, "fill": {"signal": "datum.value === 'Experimental' ? '#c8c8c8' : 'transparent'"}, "stroke": {"signal": "datum.value === 'Experimental' ? '#9a9a9a' : '#0000ff'"}, "strokeWidth": {"signal": "datum.value === 'Experimental' ? 1 : 1.6"}, "strokeDash": {"signal": "datum.value === 'Experimental' ? [1,0] : [6,3,2,3]"}, "opacity": {"value": 1}}}}}}}},
  {"transform": [{"filter": "datum.k === 't'"}], "mark": {"type": "line", "color": "#cfcfcf", "strokeWidth": 1.3}, "encoding": {"detail": {"field": "s", "type": "nominal"}}},
  {"transform": [{"filter": "datum.k === 'l'"}], "mark": {"type": "line", "strokeWidth": 1.6, "strokeDash": [7, 3, 2, 3]}, "encoding": {"color": {"datum": "Predicted", "type": "nominal"}}},
  {"transform": [{"filter": "datum.k === 'n'"}], "mark": {"type": "text", "align": "left", "baseline": "alphabetic", "font": "Liberation Sans", "fontWeight": "bold", "fontSize": 21}, "encoding": {"x": {"datum": -0.648, "type": "quantitative"}, "y": {"datum": 9.51, "type": "quantitative"}, "text": {"field": "tag"}}},
  {"transform": [{"filter": "datum.k === 'n'"}], "mark": {"type": "text", "align": "left", "baseline": "middle", "fontSize": 13}, "encoding": {"x": {"datum": 0.26, "type": "quantitative"}, "y": {"datum": 9.32, "type": "quantitative"}, "text": {"field": "name"}}},
  {"transform": [{"filter": "datum.k === 'n'"}], "mark": {"type": "text", "text": "RI", "fontStyle": "italic", "align": "left", "baseline": "middle", "fontSize": 12, "dx": -27}},
  {"transform": [{"filter": "datum.k === 'n'"}], "mark": {"type": "text", "text": "v", "fontStyle": "italic", "align": "left", "baseline": "middle", "fontSize": 9, "dx": -15.5, "dy": 4}},
  {"transform": [{"filter": "datum.k === 'n'"}], "mark": {"type": "text", "align": "left", "baseline": "middle", "fontSize": 12, "dx": -9.5}, "encoding": {"text": {"field": "ri"}}},
  {"transform": [{"filter": "datum.k === 'n'"}], "mark": {"type": "text", "align": "center", "baseline": "middle", "fontSize": 12, "dy": 17.6}, "encoding": {"text": {"field": "stage"}}}
 ]},
{"width": 332, "height": 245, "data": {"name": "rows"}, "transform": [{"filter": "datum.p === 'C'"}],
 "encoding": {
  "x": {"field": "x", "type": "quantitative", "scale": {"domain": [0, 5], "nice": false, "zero": false}, "axis": {"title": "Tensile strain /%", "values": [0,0.25,0.5,0.75,1,1.25,1.5,1.75,2,2.25,2.5,2.75,3,3.25,3.5,3.75,4,4.25,4.5,4.75,5], "labelExpr": "datum.value % 0.5 === 0 ? format(datum.value, '.1f') : ''", "tickSize": {"condition": {"test": "datum.value % 0.5 === 0", "value": -5}, "value": -3}, "labelPadding": 12, "titlePadding": 6, "titleFontSize": 14}},
  "y": {"field": "y", "type": "quantitative", "scale": {"domain": [0, 10], "nice": false}, "axis": {"title": "Tensile stress /MPa", "values": [0,0.5,1,1.5,2,2.5,3,3.5,4,4.5,5,5.5,6,6.5,7,7.5,8,8.5,9,9.5,10], "labelExpr": "datum.value % 1 === 0 ? format(datum.value, 'd') : ''", "tickSize": {"condition": {"test": "datum.value % 1 === 0", "value": -5}, "value": -3}, "labelPadding": 9, "titlePadding": 10, "titleFontSize": 16}}
 },
 "layer": [
  {"transform": [{"filter": "datum.k === 'b'"}], "mark": {"type": "area"}, "encoding": {"y2": {"field": "y2"}, "color": {"datum": "Experimental", "type": "nominal", "scale": {"domain": ["Experimental", "Predicted"], "range": ["#c8c8c8", "#0000ff"]}, "legend": {"title": null, "encode": {"symbols": {"update": {"size": {"value": 784}, "shape": {"signal": "datum.value === 'Experimental' ? 'M-1,-0.5H1V0.5H-1Z' : 'M-1,0H1'"}, "fill": {"signal": "datum.value === 'Experimental' ? '#c8c8c8' : 'transparent'"}, "stroke": {"signal": "datum.value === 'Experimental' ? '#9a9a9a' : '#0000ff'"}, "strokeWidth": {"signal": "datum.value === 'Experimental' ? 1 : 1.6"}, "strokeDash": {"signal": "datum.value === 'Experimental' ? [1,0] : [6,3,2,3]"}, "opacity": {"value": 1}}}}}}}},
  {"transform": [{"filter": "datum.k === 't'"}], "mark": {"type": "line", "color": "#cfcfcf", "strokeWidth": 1.3}, "encoding": {"detail": {"field": "s", "type": "nominal"}}},
  {"transform": [{"filter": "datum.k === 'l'"}], "mark": {"type": "line", "strokeWidth": 1.6, "strokeDash": [7, 3, 2, 3]}, "encoding": {"color": {"datum": "Predicted", "type": "nominal"}}},
  {"transform": [{"filter": "datum.k === 'n'"}], "mark": {"type": "text", "align": "left", "baseline": "alphabetic", "font": "Liberation Sans", "fontWeight": "bold", "fontSize": 21}, "encoding": {"x": {"datum": -0.648, "type": "quantitative"}, "y": {"datum": 9.51, "type": "quantitative"}, "text": {"field": "tag"}}},
  {"transform": [{"filter": "datum.k === 'n'"}], "mark": {"type": "text", "align": "left", "baseline": "middle", "fontSize": 13}, "encoding": {"x": {"datum": 0.26, "type": "quantitative"}, "y": {"datum": 9.32, "type": "quantitative"}, "text": {"field": "name"}}},
  {"transform": [{"filter": "datum.k === 'n'"}], "mark": {"type": "text", "text": "RI", "fontStyle": "italic", "align": "left", "baseline": "middle", "fontSize": 12, "dx": -27}},
  {"transform": [{"filter": "datum.k === 'n'"}], "mark": {"type": "text", "text": "v", "fontStyle": "italic", "align": "left", "baseline": "middle", "fontSize": 9, "dx": -15.5, "dy": 4}},
  {"transform": [{"filter": "datum.k === 'n'"}], "mark": {"type": "text", "align": "left", "baseline": "middle", "fontSize": 12, "dx": -9.5}, "encoding": {"text": {"field": "ri"}}},
  {"transform": [{"filter": "datum.k === 'n'"}], "mark": {"type": "text", "align": "center", "baseline": "middle", "fontSize": 12, "dy": 17.6}, "encoding": {"text": {"field": "stage"}}}
 ]},
{"width": 332, "height": 245, "data": {"name": "rows"}, "transform": [{"filter": "datum.p === 'D'"}],
 "encoding": {
  "x": {"field": "x", "type": "quantitative", "scale": {"domain": [0, 5], "nice": false, "zero": false}, "axis": {"title": "Tensile strain /%", "values": [0,0.25,0.5,0.75,1,1.25,1.5,1.75,2,2.25,2.5,2.75,3,3.25,3.5,3.75,4,4.25,4.5,4.75,5], "labelExpr": "datum.value % 0.5 === 0 ? format(datum.value, '.1f') : ''", "tickSize": {"condition": {"test": "datum.value % 0.5 === 0", "value": -5}, "value": -3}, "labelPadding": 12, "titlePadding": 6, "titleFontSize": 14}},
  "y": {"field": "y", "type": "quantitative", "scale": {"domain": [0, 10], "nice": false}, "axis": {"title": "Tensile stress /MPa", "values": [0,0.5,1,1.5,2,2.5,3,3.5,4,4.5,5,5.5,6,6.5,7,7.5,8,8.5,9,9.5,10], "labelExpr": "datum.value % 1 === 0 ? format(datum.value, 'd') : ''", "tickSize": {"condition": {"test": "datum.value % 1 === 0", "value": -5}, "value": -3}, "labelPadding": 9, "titlePadding": 10, "titleFontSize": 16}}
 },
 "layer": [
  {"transform": [{"filter": "datum.k === 'b'"}], "mark": {"type": "area"}, "encoding": {"y2": {"field": "y2"}, "color": {"datum": "Experimental", "type": "nominal", "scale": {"domain": ["Experimental", "Predicted"], "range": ["#c8c8c8", "#0000ff"]}, "legend": {"title": null, "encode": {"symbols": {"update": {"size": {"value": 784}, "shape": {"signal": "datum.value === 'Experimental' ? 'M-1,-0.5H1V0.5H-1Z' : 'M-1,0H1'"}, "fill": {"signal": "datum.value === 'Experimental' ? '#c8c8c8' : 'transparent'"}, "stroke": {"signal": "datum.value === 'Experimental' ? '#9a9a9a' : '#0000ff'"}, "strokeWidth": {"signal": "datum.value === 'Experimental' ? 1 : 1.6"}, "strokeDash": {"signal": "datum.value === 'Experimental' ? [1,0] : [6,3,2,3]"}, "opacity": {"value": 1}}}}}}}},
  {"transform": [{"filter": "datum.k === 't'"}], "mark": {"type": "line", "color": "#cfcfcf", "strokeWidth": 1.3}, "encoding": {"detail": {"field": "s", "type": "nominal"}}},
  {"transform": [{"filter": "datum.k === 'l'"}], "mark": {"type": "line", "strokeWidth": 1.6, "strokeDash": [7, 3, 2, 3]}, "encoding": {"color": {"datum": "Predicted", "type": "nominal"}}},
  {"transform": [{"filter": "datum.k === 'n'"}], "mark": {"type": "text", "align": "left", "baseline": "alphabetic", "font": "Liberation Sans", "fontWeight": "bold", "fontSize": 21}, "encoding": {"x": {"datum": -0.648, "type": "quantitative"}, "y": {"datum": 9.51, "type": "quantitative"}, "text": {"field": "tag"}}},
  {"transform": [{"filter": "datum.k === 'n'"}], "mark": {"type": "text", "align": "left", "baseline": "middle", "fontSize": 13}, "encoding": {"x": {"datum": 0.26, "type": "quantitative"}, "y": {"datum": 9.32, "type": "quantitative"}, "text": {"field": "name"}}},
  {"transform": [{"filter": "datum.k === 'n'"}], "mark": {"type": "text", "text": "RI", "fontStyle": "italic", "align": "left", "baseline": "middle", "fontSize": 12, "dx": -27}},
  {"transform": [{"filter": "datum.k === 'n'"}], "mark": {"type": "text", "text": "v", "fontStyle": "italic", "align": "left", "baseline": "middle", "fontSize": 9, "dx": -15.5, "dy": 4}},
  {"transform": [{"filter": "datum.k === 'n'"}], "mark": {"type": "text", "align": "left", "baseline": "middle", "fontSize": 12, "dx": -9.5}, "encoding": {"text": {"field": "ri"}}},
  {"transform": [{"filter": "datum.k === 'n'"}], "mark": {"type": "text", "align": "center", "baseline": "middle", "fontSize": 12, "dy": 17.6}, "encoding": {"text": {"field": "stage"}}}
 ]},
{"width": 332, "height": 245, "data": {"name": "rows"}, "transform": [{"filter": "datum.p === 'E'"}],
 "encoding": {
  "x": {"field": "x", "type": "quantitative", "scale": {"domain": [0, 5], "nice": false, "zero": false}, "axis": {"title": "Tensile strain /%", "values": [0,0.25,0.5,0.75,1,1.25,1.5,1.75,2,2.25,2.5,2.75,3,3.25,3.5,3.75,4,4.25,4.5,4.75,5], "labelExpr": "datum.value % 0.5 === 0 ? format(datum.value, '.1f') : ''", "tickSize": {"condition": {"test": "datum.value % 0.5 === 0", "value": -5}, "value": -3}, "labelPadding": 12, "titlePadding": 6, "titleFontSize": 14}},
  "y": {"field": "y", "type": "quantitative", "scale": {"domain": [0, 10], "nice": false}, "axis": {"title": "Tensile stress /MPa", "values": [0,0.5,1,1.5,2,2.5,3,3.5,4,4.5,5,5.5,6,6.5,7,7.5,8,8.5,9,9.5,10], "labelExpr": "datum.value % 1 === 0 ? format(datum.value, 'd') : ''", "tickSize": {"condition": {"test": "datum.value % 1 === 0", "value": -5}, "value": -3}, "labelPadding": 9, "titlePadding": 10, "titleFontSize": 16}}
 },
 "layer": [
  {"transform": [{"filter": "datum.k === 'b'"}], "mark": {"type": "area"}, "encoding": {"y2": {"field": "y2"}, "color": {"datum": "Experimental", "type": "nominal", "scale": {"domain": ["Experimental", "Predicted"], "range": ["#c8c8c8", "#0000ff"]}, "legend": {"title": null, "encode": {"symbols": {"update": {"size": {"value": 784}, "shape": {"signal": "datum.value === 'Experimental' ? 'M-1,-0.5H1V0.5H-1Z' : 'M-1,0H1'"}, "fill": {"signal": "datum.value === 'Experimental' ? '#c8c8c8' : 'transparent'"}, "stroke": {"signal": "datum.value === 'Experimental' ? '#9a9a9a' : '#0000ff'"}, "strokeWidth": {"signal": "datum.value === 'Experimental' ? 1 : 1.6"}, "strokeDash": {"signal": "datum.value === 'Experimental' ? [1,0] : [6,3,2,3]"}, "opacity": {"value": 1}}}}}}}},
  {"transform": [{"filter": "datum.k === 't'"}], "mark": {"type": "line", "color": "#cfcfcf", "strokeWidth": 1.3}, "encoding": {"detail": {"field": "s", "type": "nominal"}}},
  {"transform": [{"filter": "datum.k === 'l'"}], "mark": {"type": "line", "strokeWidth": 1.6, "strokeDash": [7, 3, 2, 3]}, "encoding": {"color": {"datum": "Predicted", "type": "nominal"}}},
  {"transform": [{"filter": "datum.k === 'n'"}], "mark": {"type": "text", "align": "left", "baseline": "alphabetic", "font": "Liberation Sans", "fontWeight": "bold", "fontSize": 21}, "encoding": {"x": {"datum": -0.648, "type": "quantitative"}, "y": {"datum": 9.51, "type": "quantitative"}, "text": {"field": "tag"}}},
  {"transform": [{"filter": "datum.k === 'n'"}], "mark": {"type": "text", "align": "left", "baseline": "middle", "fontSize": 13}, "encoding": {"x": {"datum": 0.26, "type": "quantitative"}, "y": {"datum": 9.32, "type": "quantitative"}, "text": {"field": "name"}}},
  {"transform": [{"filter": "datum.k === 'n'"}], "mark": {"type": "text", "text": "RI", "fontStyle": "italic", "align": "left", "baseline": "middle", "fontSize": 12, "dx": -27}},
  {"transform": [{"filter": "datum.k === 'n'"}], "mark": {"type": "text", "text": "v", "fontStyle": "italic", "align": "left", "baseline": "middle", "fontSize": 9, "dx": -15.5, "dy": 4}},
  {"transform": [{"filter": "datum.k === 'n'"}], "mark": {"type": "text", "align": "left", "baseline": "middle", "fontSize": 12, "dx": -9.5}, "encoding": {"text": {"field": "ri"}}},
  {"transform": [{"filter": "datum.k === 'n'"}], "mark": {"type": "text", "align": "center", "baseline": "middle", "fontSize": 12, "dy": 17.6}, "encoding": {"text": {"field": "stage"}}}
 ]},
{"width": 332, "height": 245, "data": {"name": "rows"}, "transform": [{"filter": "datum.p === 'F'"}],
 "encoding": {
  "x": {"field": "x", "type": "quantitative", "scale": {"domain": [0, 5], "nice": false, "zero": false}, "axis": {"title": "Tensile strain /%", "values": [0,0.25,0.5,0.75,1,1.25,1.5,1.75,2,2.25,2.5,2.75,3,3.25,3.5,3.75,4,4.25,4.5,4.75,5], "labelExpr": "datum.value % 0.5 === 0 ? format(datum.value, '.1f') : ''", "tickSize": {"condition": {"test": "datum.value % 0.5 === 0", "value": -5}, "value": -3}, "labelPadding": 12, "titlePadding": 6, "titleFontSize": 14}},
  "y": {"field": "y", "type": "quantitative", "scale": {"domain": [0, 10], "nice": false}, "axis": {"title": "Tensile stress /MPa", "values": [0,0.5,1,1.5,2,2.5,3,3.5,4,4.5,5,5.5,6,6.5,7,7.5,8,8.5,9,9.5,10], "labelExpr": "datum.value % 1 === 0 ? format(datum.value, 'd') : ''", "tickSize": {"condition": {"test": "datum.value % 1 === 0", "value": -5}, "value": -3}, "labelPadding": 9, "titlePadding": 10, "titleFontSize": 16}}
 },
 "layer": [
  {"transform": [{"filter": "datum.k === 'b'"}], "mark": {"type": "area"}, "encoding": {"y2": {"field": "y2"}, "color": {"datum": "Experimental", "type": "nominal", "scale": {"domain": ["Experimental", "Predicted"], "range": ["#c8c8c8", "#0000ff"]}, "legend": {"title": null, "encode": {"symbols": {"update": {"size": {"value": 784}, "shape": {"signal": "datum.value === 'Experimental' ? 'M-1,-0.5H1V0.5H-1Z' : 'M-1,0H1'"}, "fill": {"signal": "datum.value === 'Experimental' ? '#c8c8c8' : 'transparent'"}, "stroke": {"signal": "datum.value === 'Experimental' ? '#9a9a9a' : '#0000ff'"}, "strokeWidth": {"signal": "datum.value === 'Experimental' ? 1 : 1.6"}, "strokeDash": {"signal": "datum.value === 'Experimental' ? [1,0] : [6,3,2,3]"}, "opacity": {"value": 1}}}}}}}},
  {"transform": [{"filter": "datum.k === 't'"}], "mark": {"type": "line", "color": "#cfcfcf", "strokeWidth": 1.3}, "encoding": {"detail": {"field": "s", "type": "nominal"}}},
  {"transform": [{"filter": "datum.k === 'l'"}], "mark": {"type": "line", "strokeWidth": 1.6, "strokeDash": [7, 3, 2, 3]}, "encoding": {"color": {"datum": "Predicted", "type": "nominal"}}},
  {"transform": [{"filter": "datum.k === 'n'"}], "mark": {"type": "text", "align": "left", "baseline": "alphabetic", "font": "Liberation Sans", "fontWeight": "bold", "fontSize": 21}, "encoding": {"x": {"datum": -0.648, "type": "quantitative"}, "y": {"datum": 9.51, "type": "quantitative"}, "text": {"field": "tag"}}},
  {"transform": [{"filter": "datum.k === 'n'"}], "mark": {"type": "text", "align": "left", "baseline": "middle", "fontSize": 13}, "encoding": {"x": {"datum": 0.26, "type": "quantitative"}, "y": {"datum": 9.32, "type": "quantitative"}, "text": {"field": "name"}}},
  {"transform": [{"filter": "datum.k === 'n'"}], "mark": {"type": "text", "text": "RI", "fontStyle": "italic", "align": "left", "baseline": "middle", "fontSize": 12, "dx": -27}},
  {"transform": [{"filter": "datum.k === 'n'"}], "mark": {"type": "text", "text": "v", "fontStyle": "italic", "align": "left", "baseline": "middle", "fontSize": 9, "dx": -15.5, "dy": 4}},
  {"transform": [{"filter": "datum.k === 'n'"}], "mark": {"type": "text", "align": "left", "baseline": "middle", "fontSize": 12, "dx": -9.5}, "encoding": {"text": {"field": "ri"}}},
  {"transform": [{"filter": "datum.k === 'n'"}], "mark": {"type": "text", "align": "center", "baseline": "middle", "fontSize": 12, "dy": 17.6}, "encoding": {"text": {"field": "stage"}}}
 ]},
{"width": 332, "height": 245, "data": {"name": "rows"}, "transform": [{"filter": "datum.p === 'G'"}],
 "encoding": {
  "x": {"field": "x", "type": "quantitative", "scale": {"domain": [0, 5], "nice": false, "zero": false}, "axis": {"title": "Tensile strain /%", "values": [0,0.25,0.5,0.75,1,1.25,1.5,1.75,2,2.25,2.5,2.75,3,3.25,3.5,3.75,4,4.25,4.5,4.75,5], "labelExpr": "datum.value % 0.5 === 0 ? format(datum.value, '.1f') : ''", "tickSize": {"condition": {"test": "datum.value % 0.5 === 0", "value": -5}, "value": -3}, "labelPadding": 12, "titlePadding": 6, "titleFontSize": 14}},
  "y": {"field": "y", "type": "quantitative", "scale": {"domain": [0, 10], "nice": false}, "axis": {"title": "Tensile stress /MPa", "values": [0,0.5,1,1.5,2,2.5,3,3.5,4,4.5,5,5.5,6,6.5,7,7.5,8,8.5,9,9.5,10], "labelExpr": "datum.value % 1 === 0 ? format(datum.value, 'd') : ''", "tickSize": {"condition": {"test": "datum.value % 1 === 0", "value": -5}, "value": -3}, "labelPadding": 9, "titlePadding": 10, "titleFontSize": 16}}
 },
 "layer": [
  {"transform": [{"filter": "datum.k === 'b'"}], "mark": {"type": "area"}, "encoding": {"y2": {"field": "y2"}, "color": {"datum": "Experimental", "type": "nominal", "scale": {"domain": ["Experimental", "Predicted"], "range": ["#c8c8c8", "#0000ff"]}, "legend": {"title": null, "encode": {"symbols": {"update": {"size": {"value": 784}, "shape": {"signal": "datum.value === 'Experimental' ? 'M-1,-0.5H1V0.5H-1Z' : 'M-1,0H1'"}, "fill": {"signal": "datum.value === 'Experimental' ? '#c8c8c8' : 'transparent'"}, "stroke": {"signal": "datum.value === 'Experimental' ? '#9a9a9a' : '#0000ff'"}, "strokeWidth": {"signal": "datum.value === 'Experimental' ? 1 : 1.6"}, "strokeDash": {"signal": "datum.value === 'Experimental' ? [1,0] : [6,3,2,3]"}, "opacity": {"value": 1}}}}}}}},
  {"transform": [{"filter": "datum.k === 't'"}], "mark": {"type": "line", "color": "#cfcfcf", "strokeWidth": 1.3}, "encoding": {"detail": {"field": "s", "type": "nominal"}}},
  {"transform": [{"filter": "datum.k === 'l'"}], "mark": {"type": "line", "strokeWidth": 1.6, "strokeDash": [7, 3, 2, 3]}, "encoding": {"color": {"datum": "Predicted", "type": "nominal"}}},
  {"transform": [{"filter": "datum.k === 'n'"}], "mark": {"type": "text", "align": "left", "baseline": "alphabetic", "font": "Liberation Sans", "fontWeight": "bold", "fontSize": 21}, "encoding": {"x": {"datum": -0.648, "type": "quantitative"}, "y": {"datum": 9.51, "type": "quantitative"}, "text": {"field": "tag"}}},
  {"transform": [{"filter": "datum.k === 'n'"}], "mark": {"type": "text", "align": "left", "baseline": "middle", "fontSize": 13}, "encoding": {"x": {"datum": 0.27, "type": "quantitative"}, "y": {"datum": 9.32, "type": "quantitative"}, "text": {"field": "name"}}},
  {"transform": [{"filter": "datum.k === 'n'"}], "mark": {"type": "text", "text": "RI", "fontStyle": "italic", "align": "left", "baseline": "middle", "fontSize": 12, "dx": -27}},
  {"transform": [{"filter": "datum.k === 'n'"}], "mark": {"type": "text", "text": "v", "fontStyle": "italic", "align": "left", "baseline": "middle", "fontSize": 9, "dx": -15.5, "dy": 4}},
  {"transform": [{"filter": "datum.k === 'n'"}], "mark": {"type": "text", "align": "left", "baseline": "middle", "fontSize": 12, "dx": -9.5}, "encoding": {"text": {"field": "ri"}}},
  {"transform": [{"filter": "datum.k === 'n'"}], "mark": {"type": "text", "align": "center", "baseline": "middle", "fontSize": 12, "dy": 17.6}, "encoding": {"text": {"field": "stage"}}}
 ]}
],
"config": {
  "font": "Liberation Serif",
  "view": {"stroke": "black", "strokeWidth": 1},
  "axis": {"grid": false, "domainColor": "black", "tickColor": "black", "labelColor": "black", "titleColor": "black", "labelFont": "Liberation Serif", "titleFont": "Liberation Serif", "labelFontSize": 13, "titleFontWeight": "normal", "labelFlush": false, "labelOverlap": false, "domainWidth": 1, "tickWidth": 1},
  "legend": {"orient": "top-right", "offset": 11, "padding": 0, "labelFont": "Liberation Serif", "labelFontSize": 13, "labelColor": "black", "symbolSize": 784, "clipHeight": 14, "rowPadding": 2, "labelOffset": 5},
  "text": {"color": "black", "font": "Liberation Serif"}
}
}
